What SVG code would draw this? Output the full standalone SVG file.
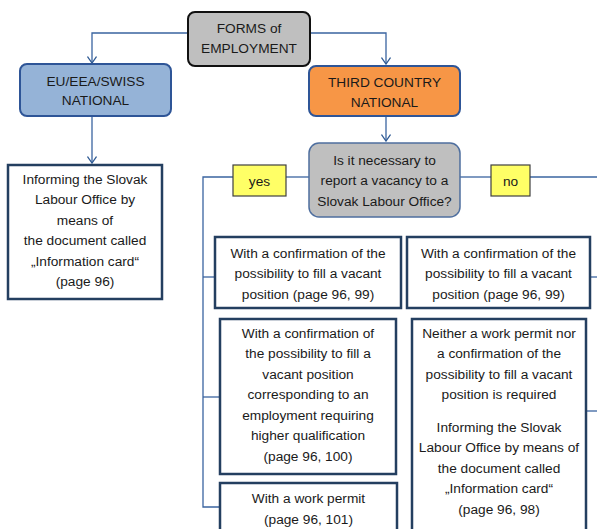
<svg xmlns="http://www.w3.org/2000/svg" width="597" height="529" viewBox="0 0 597 529">
<defs>
<marker id="arr" markerWidth="10" markerHeight="8" refX="5" refY="7" orient="0" markerUnits="userSpaceOnUse" viewBox="0 0 10 8">
<polyline points="0.5,0.5 5,7 9.5,0.5" fill="none" stroke="#2f5a94" stroke-width="1.3"/>
</marker>
<style>
text{font-family:"Liberation Sans",Arial,sans-serif;font-size:13.7px;fill:#1a1a1a;text-anchor:middle}
.con{fill:none;stroke:#3a64a0;stroke-width:1.3}
.box{fill:#ffffff;stroke:#243f60;stroke-width:2.5}
.lbl{fill:#ffff66;stroke:#404040;stroke-width:1.2}
</style>
</defs>
<rect width="597" height="529" fill="#ffffff"/>
<g id="connectors">
<polyline class="con" points="188,33 92,33 92,63" marker-end="url(#arr)"/>
<polyline class="con" points="310,33 386,33 386,64" marker-end="url(#arr)"/>
<line class="con" x1="92" y1="116" x2="92" y2="163" marker-end="url(#arr)"/>
<line class="con" x1="386" y1="116" x2="386" y2="141" marker-end="url(#arr)"/>
<line class="con" x1="309" y1="177" x2="286" y2="177"/>
<polyline class="con" points="233,177 203,177 203,507 220,507"/>
<line class="con" x1="203" y1="277" x2="215" y2="277"/>
<line class="con" x1="203" y1="397" x2="220" y2="397"/>
<line class="con" x1="460" y1="177" x2="491" y2="177"/>
<line class="con" x1="530" y1="177" x2="597" y2="177"/>
<line class="con" x1="590" y1="277" x2="597" y2="277"/>
<line class="con" x1="586" y1="411" x2="597" y2="411"/>
</g>
<g id="forms">
<rect x="188" y="12" width="122" height="54" rx="7" fill="#bfbfbf" stroke="#111111" stroke-width="2"/>
<text x="249" y="32.5">FORMS of</text>
<text x="249" y="52.5">EMPLOYMENT</text>
</g>
<g id="eu">
<rect x="20" y="64" width="151" height="52" rx="7" fill="#95b3d7" stroke="#2e5597" stroke-width="2"/>
<text x="95.5" y="85.5">EU/EEA/SWISS</text>
<text x="95.5" y="105">NATIONAL</text>
</g>
<g id="third">
<rect x="309" y="66" width="151" height="50" rx="7" fill="#f79646" stroke="#2e5597" stroke-width="2"/>
<text x="384.5" y="86.5">THIRD COUNTRY</text>
<text x="384.5" y="106.5">NATIONAL</text>
</g>
<g id="question">
<rect x="309" y="143" width="151" height="74" rx="10" fill="#bfbfbf" stroke="#4f6f9f" stroke-width="1.5"/>
<text x="384.5" y="164.5">Is it necessary to</text>
<text x="384.5" y="185">report a vacancy to a</text>
<text x="384.5" y="205.5">Slovak Labour Office?</text>
</g>
<g id="yes">
<rect class="lbl" x="233" y="165" width="53" height="31"/>
<text x="259.5" y="186">yes</text>
</g>
<g id="no">
<rect class="lbl" x="491" y="165" width="39" height="31"/>
<text x="510.5" y="186">no</text>
</g>
<g id="informing-eu">
<rect class="box" x="8" y="165" width="154" height="134"/>
<text x="85" y="183.5">Informing the Slovak</text>
<text x="85" y="204">Labour Office by</text>
<text x="85" y="224.5">means of</text>
<text x="85" y="245">the document called</text>
<text x="85" y="265.5">„Information card“</text>
<text x="85" y="286">(page 96)</text>
</g>
<g id="yes-confirmation">
<rect class="box" x="215" y="237" width="186" height="71"/>
<text x="308" y="257.5">With a confirmation of the</text>
<text x="308" y="278">possibility to fill a vacant</text>
<text x="308" y="298.5">position (page 96, 99)</text>
</g>
<g id="no-confirmation">
<rect class="box" x="407" y="237" width="183" height="71"/>
<text x="498.5" y="257.5">With a confirmation of the</text>
<text x="498.5" y="278">possibility to fill a vacant</text>
<text x="498.5" y="298.5">position (page 96, 99)</text>
</g>
<g id="yes-higher">
<rect class="box" x="220" y="319" width="176" height="155"/>
<text x="308" y="337.5">With a confirmation of</text>
<text x="308" y="358">the possibility to fill a</text>
<text x="308" y="378.5">vacant position</text>
<text x="308" y="399">corresponding to an</text>
<text x="308" y="419.5">employment requiring</text>
<text x="308" y="440">higher qualification</text>
<text x="308" y="460.5">(page 96, 100)</text>
</g>
<g id="yes-permit">
<rect class="box" x="220" y="483" width="177" height="60"/>
<text x="308.5" y="502.5">With a work permit</text>
<text x="308.5" y="524">(page 96, 101)</text>
</g>
<g id="no-neither">
<rect class="box" x="412" y="319" width="174" height="225"/>
<text x="499" y="337.5">Neither a work permit nor</text>
<text x="499" y="358">a confirmation of the</text>
<text x="499" y="378.5">possibility to fill a vacant</text>
<text x="499" y="399">position is required</text>
<text x="499" y="431.5">Informing the Slovak</text>
<text x="499" y="452">Labour Office by means of</text>
<text x="499" y="472.5">the document called</text>
<text x="499" y="493">„Information card“</text>
<text x="499" y="513.5">(page 96, 98)</text>
</g>
</svg>
